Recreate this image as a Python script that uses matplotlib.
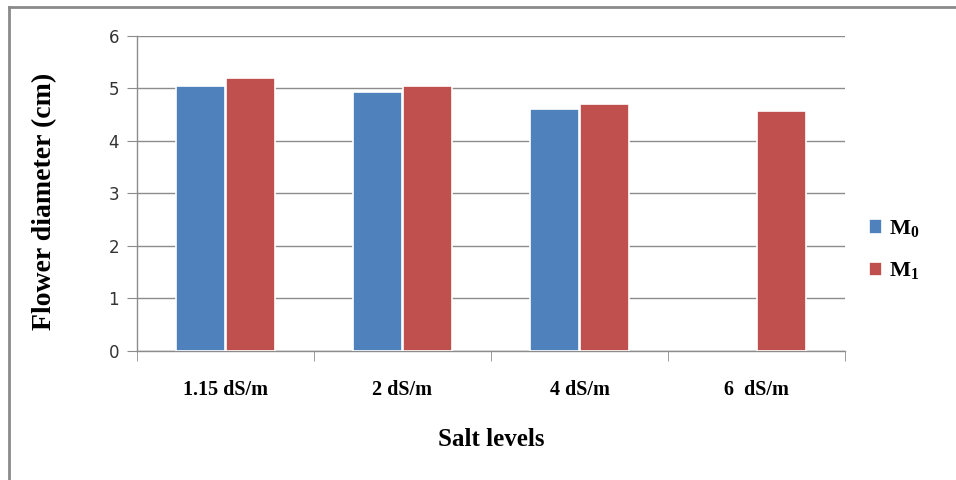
import numpy as np
import matplotlib
matplotlib.use('Agg')
import matplotlib.pyplot as plt
from matplotlib.lines import Line2D

plt.rcParams['mathtext.fontset'] = 'custom'
plt.rcParams['mathtext.bf'] = 'Liberation Serif:bold'
plt.rcParams['mathtext.rm'] = 'Liberation Serif:bold'

levels = ['1.15 dS/m', '2 dS/m', '4 dS/m', '6  dS/m']
m0 = [5.04, 4.92, 4.60, 0.0]
m1 = [5.20, 5.04, 4.69, 4.57]
series = [r'$\mathbf{M_0}$', r'$\mathbf{M_1}$']
colors = ['#4F81BD', '#C0504D']

fig = plt.figure(figsize=(9.56, 4.8), dpi=100)
ax = fig.add_axes([0.1433, 0.2694, 0.7406, 0.6564])

x = np.arange(len(levels))
w = 0.272
# empty values are not drawn at all (no white edge over the axis)
h0 = np.where(np.array(m0) > 0, m0, np.nan)
h1 = np.where(np.array(m1) > 0, m1, np.nan)
ax.bar(x - 0.141, h0, w, color=colors[0], edgecolor='white', lw=1.2, label=series[0], zorder=3)
ax.bar(x + 0.141, h1, w, color=colors[1], edgecolor='white', lw=1.2, label=series[1], zorder=3)

ax.set_xlim(-0.5, 3.5)
ax.set_ylim(0, 6)
ax.set_yticks(range(7))
ax.yaxis.grid(True, color='#8c8c8c', lw=1)
ax.set_axisbelow(True)
for s in ['top', 'right']:
    ax.spines[s].set_visible(False)
for s in ['left', 'bottom']:
    ax.spines[s].set_color('#8c8c8c')
    ax.spines[s].set_linewidth(1)

ax.set_xticks(x)
ax.set_xticklabels(levels, fontfamily='Liberation Serif', fontweight='bold', fontsize=14.5)
ax.set_xticks(np.arange(-0.5, 3.6, 1), minor=True)
ax.tick_params(axis='x', which='major', length=0, pad=21)
ax.tick_params(axis='x', which='minor', length=7, color='#8c8c8c')
ax.tick_params(axis='y', length=7, color='#8c8c8c', pad=6, labelsize=12, labelcolor='#333333')

ax.set_xlabel('Salt levels', fontfamily='Liberation Serif', fontweight='bold', fontsize=18, labelpad=20)
ax.set_ylabel('Flower diameter (cm)', fontfamily='Liberation Serif', fontweight='bold', fontsize=20)
ax.yaxis.set_label_coords(-0.113, 0.475)

ax.legend(loc='center left', bbox_to_anchor=(1.005, 0.32), frameon=False, fontsize=16,
          handlelength=0.6, handleheight=0.6, handletextpad=0.3, labelspacing=0.95)

# outer chart frame (only top and left edges visible in the crop)
fig.add_artist(Line2D([8.5 / 956, 1], [1 - 6.5 / 480, 1 - 6.5 / 480], color='#8a8a8a', lw=2))
fig.add_artist(Line2D([8.5 / 956, 8.5 / 956], [0, 1 - 6.5 / 480], color='#8a8a8a', lw=2))

fig.savefig('out.png', dpi=100)
